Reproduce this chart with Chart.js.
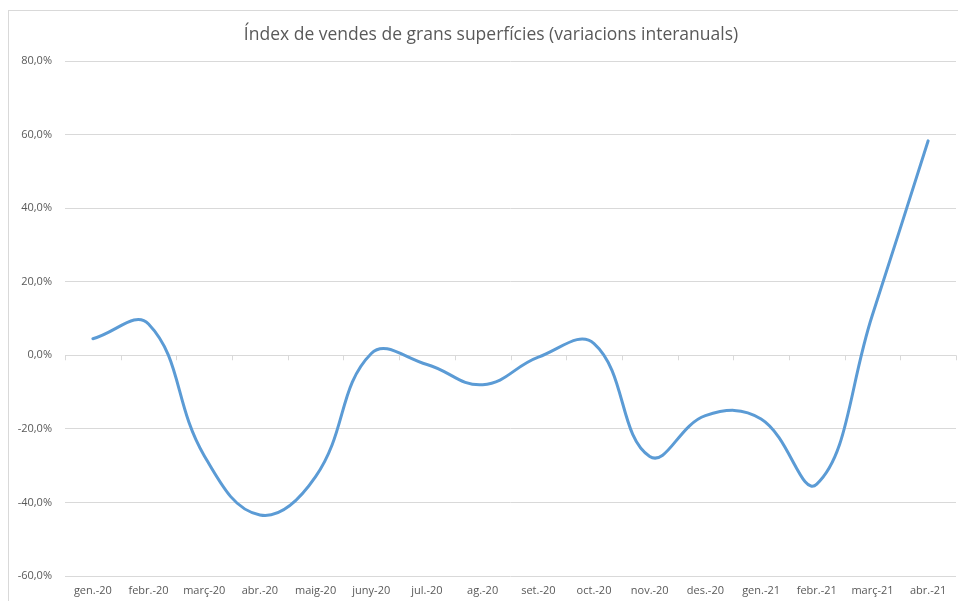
<!DOCTYPE html>
<html>
<head>
<meta charset="utf-8">
<script src="https://cdn.jsdelivr.net/npm/chart.js@4"></script>
<style>
  html, body { margin: 0; padding: 0; background: #fff; overflow: hidden; }
  #frame { position: absolute; left: 8px; top: 10px; width: 1000px; height: 700px; border: 1px solid #d9d9d9; }
  #wrap { position: absolute; left: 0; top: 0; width: 982px; height: 601px; }
</style>
</head>
<body>
<div id="frame"></div>
<div id="wrap"><canvas id="salesChart"></canvas></div>
<script>
const months = ['gen.-20', 'febr.-20', 'març-20', 'abr.-20', 'maig-20', 'juny-20', 'jul.-20', 'ag.-20',
  'set.-20', 'oct.-20', 'nov.-20', 'des.-20', 'gen.-21', 'febr.-21', 'març-21', 'abr.-21'];
const salesIndex = [4.5, 8.5, -27.3, -43.4, -33, 0.5, -2.5, -8, -0.5, 3.2, -27.5, -16.4, -17.3, -35, 11, 58.3];
const yTicks = [-60, -40, -20, 0, 20, 40, 60, 80];

// small tick marks on the zero line, between categories (Excel style)
const zeroTicks = {
  id: 'zeroTicks',
  beforeDatasetsDraw(chart) {
    const x = chart.scales.x, y = chart.scales.y;
    const y0 = y.getPixelForValue(0);
    const c = chart.ctx;
    c.save();
    c.strokeStyle = '#d9d9d9';
    c.lineWidth = 1;
    c.beginPath();
    for (let i = 0; i <= months.length; i++) {
      const px = Math.round(x.getPixelForValue(i - 0.5)) + 0.5;
      c.moveTo(px, y0);
      c.lineTo(px, y0 + 5);
    }
    c.stroke();
    c.restore();
  }
};

document.addEventListener('DOMContentLoaded', function () {
  const ctx = document.getElementById('salesChart').getContext('2d');
  new Chart(ctx, {
    type: 'line',
    data: {
      labels: months,
      datasets: [{
        data: salesIndex,
        borderColor: '#5b9bd5',
        borderWidth: 3,
        tension: 0.42,
        pointRadius: 0,
        borderCapStyle: 'round',
        fill: false
      }]
    },
    options: {
      responsive: true,
      maintainAspectRatio: false,
      animation: false,
      layout: { padding: 0 },
      plugins: {
        legend: { display: false },
        tooltip: { enabled: false },
        title: {
          display: true,
          text: 'Índex de vendes de grans superfícies (variacions interanuals)',
          color: '#595959',
          font: { family: 'Open Sans', size: 17.5, weight: 'normal' },
          padding: { top: 25, bottom: 15 }
        }
      },
      scales: {
        x: {
          offset: true,
          grid: { display: false, drawTicks: false },
          border: { display: false },
          ticks: {
            color: '#595959',
            font: { family: 'Open Sans', size: 11 },
            padding: 8,
            maxRotation: 0,
            autoSkip: false
          },
          afterFit(scale) { scale.height = 25; }
        },
        y: {
          min: -60,
          max: 80,
          afterBuildTicks(scale) { scale.ticks = yTicks.map(v => ({ value: v })); },
          grid: { color: '#d9d9d9', drawTicks: false },
          border: { display: false },
          ticks: {
            color: '#595959',
            font: { family: 'Open Sans', size: 11 },
            padding: 13,
            callback: v => v.toFixed(1).replace('.', ',') + '%'
          },
          afterFit(scale) { scale.width = 65; }
        },
        // empty spacer on the right: the canvas runs past the page so the title sits off-centre like the original
        spacer: {
          position: 'right',
          grid: { display: false, drawTicks: false },
          border: { display: false },
          ticks: { display: false },
          afterFit(scale) { scale.width = 26; }
        }
      }
    },
    plugins: [zeroTicks]
  });
});
</script>
</body>
</html>
